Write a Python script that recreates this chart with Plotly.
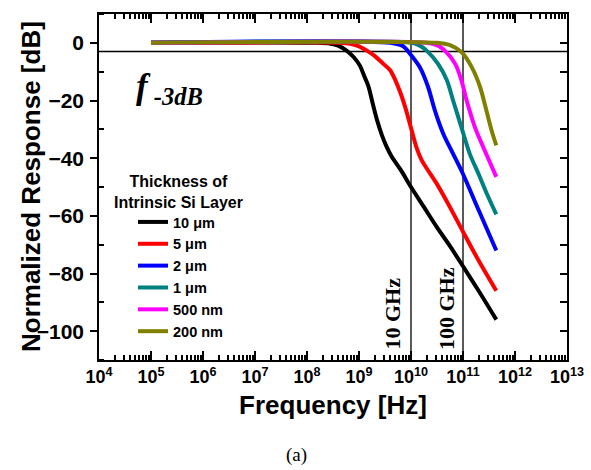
import math
import plotly.graph_objects as go

SANS = "Liberation Sans, Arial, sans-serif"
SERIF = "Liberation Serif, Times New Roman, serif"

# ---- data (frequency given as log10(Hz), response in dB) ----
series_names = ["10 μm", "5 μm", "2 μm", "1 μm", "500 nm", "200 nm"]
series_colors = ["#000000", "#ff0000", "#0000ff", "#008080", "#ff00ff", "#808000"]

black_logf = [5, 8.2, 8.45, 8.6, 8.76, 8.9, 9.02, 9.1, 9.18, 9.27, 9.35, 9.44, 9.53, 9.63, 9.8, 10.0, 10.25, 10.5, 10.75, 11.0, 11.3, 11.64]
black_db = [0, 0, -0.3, -1.0, -2.7, -5, -8, -11.5, -15, -21.5, -27, -32, -36, -39.5, -44, -50, -57, -64, -70.5, -77.5, -86, -96]

red_logf = [5, 8.6, 8.85, 9.0, 9.15, 9.3, 9.47, 9.6, 9.7, 9.8, 9.9, 10.0, 10.1, 10.2, 10.3, 10.5, 10.75, 11.0, 11.3, 11.64]
red_db = [0, 0, -0.4, -1.2, -2.7, -4.5, -7.3, -9.5, -13, -17.5, -23, -29.5, -36, -40.5, -43.5, -49, -57, -65.5, -75.5, -86]

blue_logf = [5, 9.6, 9.85, 9.98, 10.17, 10.33, 10.46, 10.62, 10.81, 11.0, 11.3, 11.64]
blue_db = [0, 0, -1.2, -3.8, -8.5, -15.4, -23.5, -31.5, -38.5, -45.5, -58, -72]

teal_logf = [5, 10.0, 10.15, 10.3, 10.52, 10.69, 10.81, 10.97, 11.13, 11.3, 11.45, 11.64]
teal_db = [0, 0, -0.8, -2.7, -7.3, -13, -20, -29.3, -38.5, -45.5, -52, -59.5]

magenta_logf = [5, 10.3, 10.5, 10.65, 10.85, 10.97, 11.07, 11.23, 11.39, 11.58, 11.64]
magenta_db = [0, 0, -0.8, -2.7, -7.3, -13, -20, -29.3, -36.2, -44, -46.5]

olive_logf = [5, 10.5, 10.75, 10.97, 11.17, 11.33, 11.45, 11.55, 11.64]
olive_db = [0, 0, -0.8, -3.2, -8.5, -15.4, -23.5, -30.4, -35.6]

series_logf = [black_logf, red_logf, blue_logf, teal_logf, magenta_logf, olive_logf]
series_db = [black_db, red_db, blue_db, teal_db, magenta_db, olive_db]

ref_level_db = -3
ref_freqs = [1e10, 1e11]
ref_labels = ["10 GHz", "100 GHz"]
x_decades = list(range(4, 14))
x_tick_text = ["10<sup>%d</sup>" % d for d in x_decades]
y_range = [-110, 10]

fig = go.Figure()

# reference lines
fig.add_trace(go.Scatter(x=[10 ** x_decades[0], 10 ** x_decades[-1]], y=[ref_level_db, ref_level_db],
                         mode="lines", line=dict(color="black", width=1.3),
                         showlegend=False, hoverinfo="skip"))
for f in ref_freqs:
    fig.add_trace(go.Scatter(x=[f, f], y=y_range, mode="lines",
                             line=dict(color="black", width=1.3),
                             showlegend=False, hoverinfo="skip"))

for name, color, lf, db in zip(series_names, series_colors, series_logf, series_db):
    fig.add_trace(go.Scatter(x=[10 ** v for v in lf], y=db, mode="lines", name=name,
                             line=dict(color=color, width=4, shape="spline", smoothing=0.8)))

# invisible trace to create the right-hand tick axis
fig.add_trace(go.Scatter(x=[1e5], y=[0], yaxis="y2", mode="markers",
                         marker=dict(opacity=0), showlegend=False, hoverinfo="skip"))

W, H = 591, 470
L, R, T, B = 99, 24, 14, 110
pw, ph = W - L - R, H - T - B


def px(x):
    return (x - L) / pw


def py(y):
    return (H - B - y) / ph


annotations = []
# f-3dB label
annotations.append(dict(text="<b><i>f</i></b><sub><b><i> -3dB</i></b></sub>",
                        x=px(134), y=py(89), xref="paper", yref="paper",
                        xanchor="left", yanchor="middle", showarrow=False,
                        font=dict(family=SERIF, size=35, color="black")))
# legend title
annotations.append(dict(text="Thickness of<br>Intrinsic Si Layer",
                        x=px(178), y=py(192), xref="paper", yref="paper",
                        xanchor="center", yanchor="middle", showarrow=False,
                        font=dict(family=SANS, size=16, color="black", weight="bold")))
# y-axis title
annotations.append(dict(text="Normalized Response [dB]", x=px(31), y=py(187),
                        xref="paper", yref="paper", xanchor="center", yanchor="middle",
                        textangle=-90, showarrow=False,
                        font=dict(family=SANS, size=26, color="black", weight="bold")))
# frequency marker labels
for f, lab, gap in zip(ref_freqs, ref_labels, [5, 2]):
    annotations.append(dict(text=lab, x=math.log10(f), y=y_range[0], xref="x", yref="y",
                            xanchor="right", yanchor="bottom", xshift=-gap, yshift=8,
                            textangle=-90, showarrow=False,
                            font=dict(family=SERIF, size=22, color="black", weight="bold")))
# caption
annotations.append(dict(text="(a)", x=px(296), y=py(455), xref="paper", yref="paper",
                        xanchor="center", yanchor="middle", showarrow=False,
                        font=dict(family=SERIF, size=19, color="black")))

minor_x = [k * 10 ** d for d in x_decades[:-1] for k in range(2, 10)]

fig.update_layout(
    width=W, height=H,
    margin=dict(l=L, r=R, t=T, b=B, pad=0, autoexpand=False),
    paper_bgcolor="white", plot_bgcolor="rgba(0,0,0,0)",
    xaxis=dict(type="log", range=[3.9999, 13.0001], tickmode="array",
               tickvals=[10 ** d for d in x_decades], ticktext=x_tick_text,
               ticks="inside", ticklen=9, tickwidth=2, tickcolor="black", mirror="ticks",
               showline=True, linecolor="black", linewidth=1.5,
               showgrid=False, zeroline=False, automargin=False,
               tickfont=dict(family=SANS, size=18, color="black", weight="bold"),
               minor=dict(tickmode="array", tickvals=minor_x, ticks="inside", ticklen=5,
                          tickwidth=1.5, tickcolor="black", showgrid=False),
               title=dict(text="Frequency [Hz]", standoff=9,
                          font=dict(family=SANS, size=26, color="black", weight="bold"))),
    yaxis=dict(range=y_range, tickmode="linear", tick0=0, dtick=20, ticks="outside",
               ticklen=7, tickwidth=2, tickcolor="black", mirror=True, ticklabelstandoff=2,
               showline=True, linecolor="black", linewidth=1.5,
               showgrid=False, zeroline=False, automargin=False,
               tickfont=dict(family=SANS, size=21, color="black", weight="bold"),
               minor=dict(ticks="inside", ticklen=5, tickwidth=2, tickcolor="black",
                          tick0=10, dtick=20, showgrid=False)),
    yaxis2=dict(overlaying="y", side="right", range=y_range, tickmode="linear", tick0=0,
                dtick=10, ticks="inside", ticklen=7, tickwidth=2, tickcolor="black",
                showticklabels=False, showgrid=False, zeroline=False, showline=False,
                automargin=False),
    legend=dict(x=px(133), y=py(206), xanchor="left", yanchor="top",
                bgcolor="rgba(0,0,0,0)", borderwidth=0, traceorder="normal",
                font=dict(family=SANS, size=14.5, color="black", weight="bold")),
    annotations=annotations,
    showlegend=True,
)

fig.write_html("out.html")
